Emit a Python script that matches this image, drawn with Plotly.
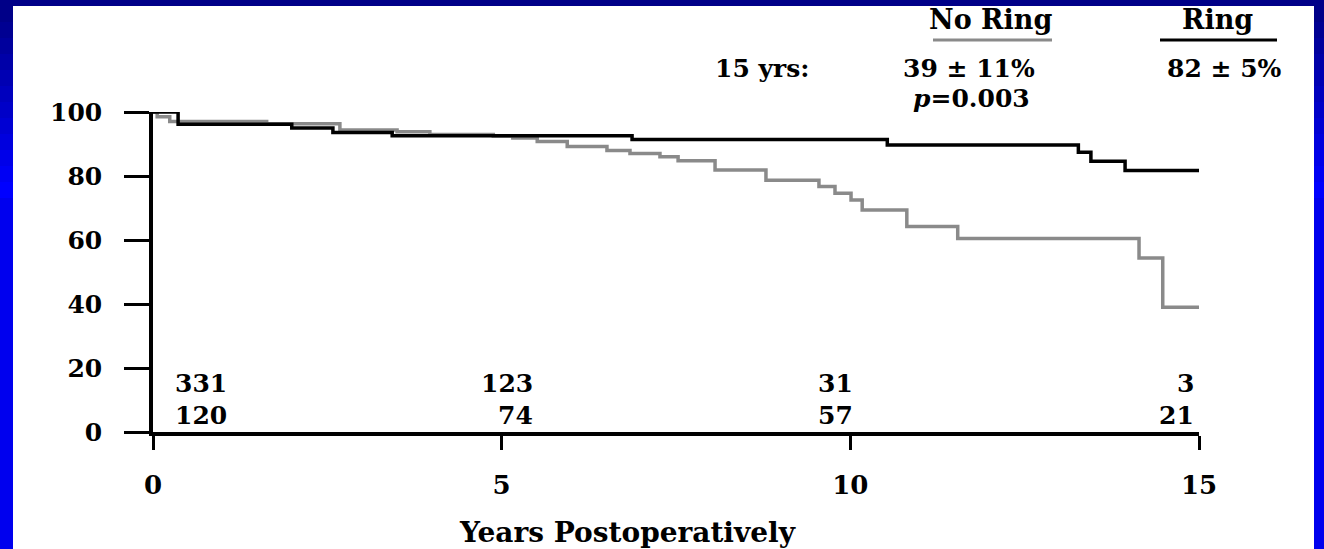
import plotly.graph_objects as go

# ---------------- data ----------------
ring_t = [0, 0.36, 1.99, 2.58, 3.43, 6.87, 10.53, 13.27, 13.45, 13.94, 15]
ring_s = [100, 96.2, 95.0, 93.6, 92.6, 91.4, 89.7, 87.4, 84.6, 81.7, 81.7]

noring_t = [0, 0.06, 0.24, 1.63, 2.68, 3.5, 3.97, 4.88, 5.16, 5.51, 5.94, 6.51,
            6.84, 7.27, 7.53, 8.06, 8.79, 9.55, 9.78, 10.01, 10.17, 10.81,
            11.54, 14.14, 14.48, 15]
noring_s = [100, 98.5, 97.0, 96.3, 94.4, 93.8, 93.0, 92.5, 91.9, 90.8, 89.2, 88.0,
            87.0, 86.0, 84.8, 81.9, 78.7, 76.7, 74.6, 72.5, 69.4, 64.2,
            60.5, 54.4, 39.0, 39.0]

risk_times = [0, 5, 10, 15]
noring_at_risk = [331, 123, 31, 3]
ring_at_risk = [120, 74, 57, 21]

x_ticks = [0, 5, 10, 15]
y_ticks = [0, 20, 40, 60, 80, 100]

x_title = "Years Postoperatively"
label_noring = "No Ring"
label_ring = "Ring"
label_15 = "15 yrs:"
noring_15 = "39 ± 11%"
ring_15 = "82 ± 5%"
p_text = "<i>p</i>=0.003"

# ---------------- layout helpers ----------------
W, H = 1324, 549
L, R, T, B = 153, 1199, 112, 432   # plot area in pixels
FONT = "DejaVu Serif"


def px(x):
    return (x - L) / (R - L)


def py(y):
    return (B - y) / (B - T)


fig = go.Figure()

fig.add_trace(go.Scatter(x=noring_t, y=noring_s, mode="lines", line_shape="hv",
                         line=dict(color="#8a8a8a", width=3.5), name=label_noring,
                         hoverinfo="skip"))
fig.add_trace(go.Scatter(x=ring_t, y=ring_s, mode="lines", line_shape="hv",
                         line=dict(color="#000000", width=3.5), name=label_ring,
                         hoverinfo="skip"))

shapes = []
# blue frame background pieces
shapes.append(dict(type="rect", xref="paper", yref="paper", layer="below",
                   x0=px(13), x1=px(1314), y0=py(H + 20), y1=py(6),
                   fillcolor="white", line=dict(width=0)))
shapes.append(dict(type="rect", xref="paper", yref="paper", layer="below",
                   x0=px(-5), x1=px(W + 5), y0=py(6), y1=py(-5),
                   fillcolor="#000088", line=dict(width=0)))
# gradient on side strips (dark at top -> bright blue)
steps = 12
for i in range(steps):
    y0p = 6 + i * 16
    y1p = y0p + 16
    f = i / (steps - 1)
    b = int(0x88 + (0xff - 0x88) * f)
    col = "#0000%02x" % b
    for (a0, a1) in [(-5, 13), (1314, W + 5)]:
        shapes.append(dict(type="rect", xref="paper", yref="paper", layer="below",
                           x0=px(a0), x1=px(a1), y0=py(y1p), y1=py(y0p),
                           fillcolor=col, line=dict(width=0)))
# underlines of legend headers
shapes.append(dict(type="line", xref="paper", yref="paper",
                   x0=px(933), x1=px(1052), y0=py(40), y1=py(40),
                   line=dict(color="#8a8a8a", width=3)))
shapes.append(dict(type="line", xref="paper", yref="paper",
                   x0=px(1160), x1=px(1277), y0=py(40), y1=py(40),
                   line=dict(color="#000000", width=3)))

ann = []
bold = dict(family=FONT, size=25, color="black", weight="bold")


def add_text(text, xc, yc, size=25, xanchor="center"):
    ann.append(dict(text=text, xref="paper", yref="paper", x=px(xc), y=py(yc),
                    xanchor=xanchor, yanchor="middle", showarrow=False,
                    font=dict(family=FONT, size=size, color="black", weight="bold")))


add_text(label_noring, 990, 19, size=27)
add_text(label_ring, 1217, 19, size=27)
add_text(label_15, 762, 68)
add_text(noring_15, 969, 68)
add_text(ring_15, 1224, 68)
add_text(p_text, 971, 98)
add_text(x_title, 627, 532, size=28)

# numbers at risk
row_y = [15.3, 5.3]
anchors = ["left", "right", "right", "right"]
shifts = [20, 33, 5, -3]
for row, vals in zip(row_y, [noring_at_risk, ring_at_risk]):
    for t, v, a, s in zip(risk_times, vals, anchors, shifts):
        ann.append(dict(text=str(v), x=t, y=row, xref="x", yref="y",
                        xanchor=a, yanchor="middle", xshift=s, showarrow=False,
                        font=bold))

fig.update_layout(
    width=W, height=H,
    margin=dict(l=L, r=W - R, t=T, b=H - B),
    paper_bgcolor="#0000ee",
    plot_bgcolor="white",
    showlegend=False,
    shapes=shapes,
    annotations=ann,
    xaxis=dict(range=[0, 15], tickvals=x_ticks, ticks="outside", ticklen=14,
               tickwidth=3, tickcolor="black", showline=True, linewidth=3.5,
               linecolor="black", showgrid=False, zeroline=False,
               ticklabelstandoff=13,
               tickfont=dict(family=FONT, size=26, color="black", weight="bold")),
    yaxis=dict(range=[0, 100], tickvals=y_ticks, ticks="outside", ticklen=25,
               tickwidth=3, tickcolor="black", showline=True, linewidth=3.5,
               linecolor="black", showgrid=False, zeroline=False,
               ticklabelstandoff=17,
               tickfont=dict(family=FONT, size=25, color="black", weight="bold")),
)

fig.write_html("out.html")
